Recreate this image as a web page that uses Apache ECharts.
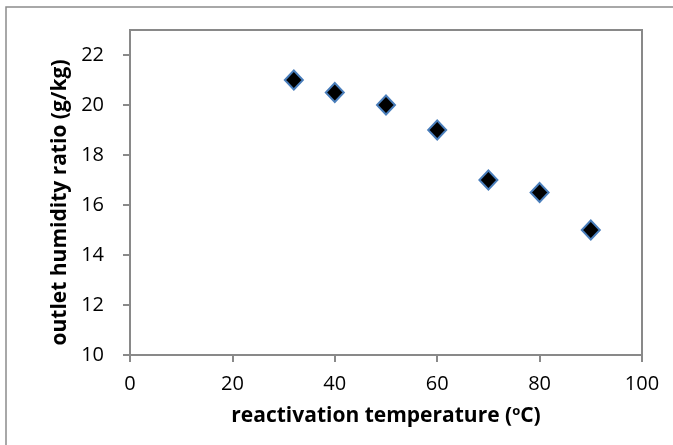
<!DOCTYPE html>
<html>
<head>
<meta charset="utf-8">
<script src="https://cdn.jsdelivr.net/npm/echarts@6/dist/echarts.min.js"></script>
<style>html,body{margin:0;padding:0;background:#fff}#c{width:673px;height:445px}</style>
</head>
<body>
<div id="c"></div>
<script>
const temperature = [32, 40, 50, 60, 70, 80, 90];
const humidityRatio = [21, 20.5, 20, 19, 17, 16.5, 15];
const xTicks = [0, 20, 40, 60, 80, 100];
const yTicks = [10, 12, 14, 16, 18, 20, 22];

const FONT = '"Open Sans", sans-serif';
const GRAY = '#898989';
const chart = echarts.init(document.getElementById('c'), null, {renderer: 'canvas'});
chart.setOption({
  animation: false,
  backgroundColor: '#fff',
  graphic: [{
    type: 'rect', silent: true, z: -1,
    shape: {x: 6, y: 7, width: 700, height: 480},
    style: {fill: 'none', stroke: '#8c8c8c', lineWidth: 1.5}
  }],
  grid: {left: 130, right: 31, top: 30, bottom: 90, show: true, borderColor: GRAY, borderWidth: 2, backgroundColor: 'transparent'},
  xAxis: {
    type: 'value', min: 0, max: 100, interval: 20,
    name: 'reactivation temperature ({sup|o}C)',
    nameLocation: 'middle', nameGap: 50,
    nameTextStyle: {fontFamily: FONT, fontWeight: 'bold', fontSize: 21, color: '#000',
      rich: {sup: {fontFamily: FONT, fontWeight: 'bold', fontSize: 13, color: '#000', padding: [0, 0, 10, 0]}}},
    axisLine: {show: true, lineStyle: {color: GRAY, width: 2}},
    axisTick: {show: true, inside: false, length: 7, lineStyle: {color: GRAY, width: 2}, customValues: xTicks},
    axisLabel: {fontFamily: FONT, fontSize: 20, color: '#000', margin: 19, customValues: xTicks},
    splitLine: {show: false}
  },
  yAxis: {
    type: 'value', min: 10, max: 23, interval: 2,
    name: 'outlet humidity ratio (g/kg)',
    nameLocation: 'middle', nameGap: 57, nameRotate: 90,
    nameTextStyle: {fontFamily: FONT, fontWeight: 'bold', fontSize: 21, color: '#000', padding: [0, 20, 0, 0]},
    axisLine: {show: true, lineStyle: {color: GRAY, width: 2}},
    axisTick: {show: true, inside: false, length: 7, lineStyle: {color: GRAY, width: 2}, customValues: yTicks},
    axisLabel: {fontFamily: FONT, fontSize: 20, color: '#000', margin: 26, customValues: yTicks},
    splitLine: {show: false}
  },
  series: [{
    type: 'scatter',
    data: temperature.map((t, i) => [t, humidityRatio[i]]),
    symbol: 'diamond',
    symbolSize: [18, 19],
    itemStyle: {color: '#000', borderColor: '#4a7ebb', borderWidth: 2, opacity: 1}
  }]
});
</script>
</body>
</html>
